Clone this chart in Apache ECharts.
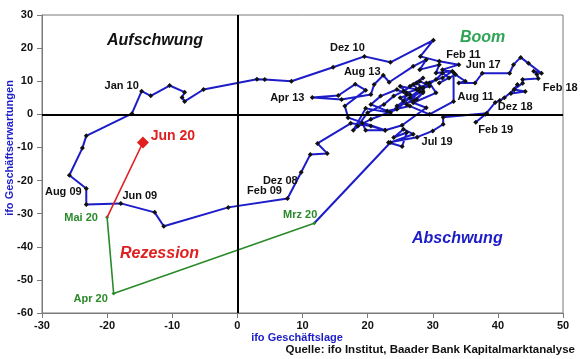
<!DOCTYPE html>
<html><head><meta charset="utf-8">
<script src="https://cdn.jsdelivr.net/npm/echarts@6/dist/echarts.min.js"></script>
<style>html,body{margin:0;padding:0;background:#fff}#c{width:580px;height:359px}</style>
</head><body><div id="c"></div>
<script>
// Monthly ifo path Jan 08 .. Feb 20 (blue)
const months = [
 'Jan 08','Feb 08','Mrz 08','Apr 08','Mai 08','Jun 08','Jul 08','Aug 08','Sep 08','Okt 08','Nov 08','Dez 08',
 'Jan 09','Feb 09','Mrz 09','Apr 09','Mai 09','Jun 09','Jul 09','Aug 09','Sep 09','Okt 09','Nov 09','Dez 09',
 'Jan 10','Feb 10','Mrz 10','Apr 10','Mai 10','Jun 10','Jul 10','Aug 10','Sep 10','Okt 10','Nov 10','Dez 10',
 'Jan 11','Feb 11','Mrz 11','Apr 11','Mai 11','Jun 11','Jul 11','Aug 11','Sep 11','Okt 11','Nov 11','Dez 11',
 'Jan 12','Feb 12','Mrz 12','Apr 12','Mai 12','Jun 12','Jul 12','Aug 12','Sep 12','Okt 12','Nov 12','Dez 12',
 'Jan 13','Feb 13','Mrz 13','Apr 13','Mai 13','Jun 13','Jul 13','Aug 13','Sep 13','Okt 13','Nov 13','Dez 13',
 'Jan 14','Feb 14','Mrz 14','Apr 14','Mai 14','Jun 14','Jul 14','Aug 14','Sep 14','Okt 14','Nov 14','Dez 14',
 'Jan 15','Feb 15','Mrz 15','Apr 15','Mai 15','Jun 15','Jul 15','Aug 15','Sep 15','Okt 15','Nov 15','Dez 15',
 'Jan 16','Feb 16','Mrz 16','Apr 16','Mai 16','Jun 16','Jul 16','Aug 16','Sep 16','Okt 16','Nov 16','Dez 16',
 'Jan 17','Feb 17','Mrz 17','Apr 17','Mai 17','Jun 17','Jul 17','Aug 17','Sep 17','Okt 17','Nov 17','Dez 17',
 'Jan 18','Feb 18','Mrz 18','Apr 18','Mai 18','Jun 18','Jul 18','Aug 18','Sep 18','Okt 18','Nov 18','Dez 18',
 'Jan 19','Feb 19','Mrz 19','Apr 19','Mai 19','Jun 19','Jul 19','Aug 19','Sep 19','Okt 19','Nov 19','Dez 19',
 'Jan 20','Feb 20'
];
const lage = [
 28.0,29.5,30.5,27.0,29.0,25.3,22.7,20.5,17.4,12.3,13.8,11.2,
 9.8,7.7,-1.4,-11.3,-12.7,-17.9,-23.2,-23.2,-25.8,-23.8,-23.2,-16.2,
 -14.7,-13.3,-10.4,-8.1,-8.5,-8.1,-5.2,3.0,4.2,8.3,14.7,19.5,
 23.5,30.1,28.1,31.0,34.0,31.5,33.2,33.2,29.5,26.5,23.0,20.5,
 22.0,24.5,26.0,25.5,23.5,19.7,17.8,19.2,19.7,22.7,17.0,16.5,
 19.7,18.1,15.5,11.5,16.0,20.5,21.0,22.4,23.3,27.0,29.0,28.0,
 31.0,30.5,33.0,31.5,29.0,28.5,26.5,24.5,20.5,18.5,20.0,22.5,
 24.0,25.5,27.5,28.5,26.0,25.0,27.5,29.5,28.0,26.5,28.5,27.0,
 28.0,26.0,25.0,26.5,27.5,28.5,27.0,24.5,28.5,30.5,31.5,32.5,
 31.0,33.5,35.0,34.0,36.5,37.6,41.8,42.4,43.5,44.7,46.7,45.5,
 46.0,46.2,43.8,43.8,42.5,44.2,42.0,43.0,42.5,41.0,40.3,39.6,
 38.1,36.6,38.3,31.6,31.6,30.0,27.6,23.2,25.3,26.0,24.0,25.5,
 27.0,23.5
];
const erwartungen = [
 8.0,9.5,6.5,3.5,2.0,-3.3,-4.8,-3.5,-2.7,-8.8,-11.8,-12.1,
 -17.5,-25.4,-28.1,-33.8,-29.6,-26.9,-27.2,-22.4,-18.4,-10.2,-6.5,0.2,
 7.0,5.6,8.7,6.7,5.1,3.9,7.5,10.6,10.5,10.0,14.2,17.5,
 15.7,22.4,17.5,16.0,15.0,13.5,12.6,3.9,0.0,2.5,1.0,3.0,
 5.5,7.5,6.0,4.0,0.5,1.8,-4.8,-2.7,-4.8,-4.8,-1.0,2.5,
 7.3,9.1,5.7,5.1,4.5,6.0,9.0,11.8,9.7,14.5,16.5,13.5,
 15.0,12.5,13.0,11.0,9.5,7.0,5.0,1.5,-1.5,-3.5,0.5,3.0,
 5.5,7.0,9.5,8.0,6.5,8.5,7.5,8.5,10.0,8.5,11.0,9.0,
 7.0,3.0,5.0,6.0,4.5,6.5,4.0,2.5,8.0,10.5,12.5,11.0,
 9.5,12.0,10.0,9.5,9.5,12.4,12.4,15.0,17.2,15.4,12.4,13.0,
 12.0,10.8,10.5,9.4,7.5,6.9,6.3,9.0,7.5,5.0,4.2,3.6,
 0.0,-2.4,0.3,-0.9,-3.0,-5.0,-6.9,-8.5,-9.7,-5.5,-7.0,-4.5,
 -6.0,-8.5
];
// Corona months (green) and latest (red)
const coronaMonths = ['Mrz 20','Apr 20','Mai 20'];
const coronaLage = [11.8,-19.0,-20.0];
const coronaErw = [-32.9,-54.1,-31.1];
const latestMonths = ['Mai 20','Jun 20'];
const latestLage = [-20.0,-14.5];
const latestErw = [-31.1,-8.5];
const xTicks = {min:-30,max:50,step:10};
const yTicks = {min:-60,max:30,step:10};

// label placement (style, not data)
const blueLabelOffsets = {
 'Dez 08':[-30,27],'Feb 09':[-23,-7],'Jun 09':[19,-7],'Aug 09':[-23,3],'Jan 10':[-20,-5],
 'Dez 10':[-17,-8],'Feb 11':[30,15],'Aug 11':[22,-4],'Apr 13':[-25,1],'Aug 13':[-21,-3],
 'Jun 17':[1,-8],'Feb 18':[22,9],'Dez 18':[20,5],'Feb 19':[20,8],'Jul 19':[20,5]
};
const greenLabelOffsets = {'Mrz 20':[-14,-8],'Apr 20':[-23,6],'Mai 20':[-26,1]};

const F = 'Liberation Sans, Arial, sans-serif';
const lblStyle = {show:true, position:'inside', color:'#111', fontFamily:F, fontWeight:'bold', fontSize:11};

const blueData = months.map((m,i)=>{
  const d = {name:m, value:[lage[i], erwartungen[i]]};
  if (blueLabelOffsets[m]) d.label = Object.assign({}, lblStyle, {formatter:m, offset:blueLabelOffsets[m]});
  return d;
});
// the blue path runs on into the first corona month
blueData.push({name:coronaMonths[0], value:[coronaLage[0], coronaErw[0]], symbol:'none'});

const greenData = coronaMonths.map((m,i)=>{
  const d = {name:m, value:[coronaLage[i], coronaErw[i]]};
  if (greenLabelOffsets[m]) d.label = Object.assign({}, lblStyle, {color:'#2a8a2a', formatter:m, offset:greenLabelOffsets[m]});
  return d;
});
const redData = latestMonths.map((m,i)=>{
  const d = {name:m, value:[latestLage[i], latestErw[i]]};
  if (i === latestMonths.length-1) {
    d.symbol = 'diamond'; d.symbolSize = 12;
    d.label = Object.assign({}, lblStyle, {color:'#e02020', fontSize:14, formatter:m, offset:[30,-6]});
  } else { d.symbol = 'none'; }
  return d;
});

const chart = echarts.init(document.getElementById('c'), null, {renderer:'canvas'});
const axisLbl = {color:'#111', fontFamily:F, fontWeight:'bold', fontSize:11};
chart.setOption({
  animation:false,
  grid:{left:42, right:17, top:15, bottom:46, show:true, borderColor:'#7a7a7a', borderWidth:1, backgroundColor:'transparent'},
  xAxis:{type:'value', min:xTicks.min, max:xTicks.max, interval:xTicks.step,
    axisLine:{show:true, onZero:false, lineStyle:{color:'#7a7a7a'}},
    axisTick:{show:true, length:5, lineStyle:{color:'#7a7a7a'}},
    splitLine:{show:false}, axisLabel:Object.assign({margin:7}, axisLbl)},
  yAxis:{type:'value', min:yTicks.min, max:yTicks.max, interval:yTicks.step,
    axisLine:{show:true, onZero:false, lineStyle:{color:'#7a7a7a'}},
    axisTick:{show:true, length:5, lineStyle:{color:'#7a7a7a'}},
    splitLine:{show:false}, axisLabel:Object.assign({margin:9}, axisLbl)},
  series:[
    {type:'line', data:[], z:1, silent:true,
     markLine:{silent:true, symbol:'none', label:{show:false},
       lineStyle:{color:'#000', width:2, type:'solid'},
       data:[{xAxis:0},{yAxis:0}]}},
    {type:'line', name:'ifo', data:blueData, z:3,
     symbol:'diamond', symbolSize:5, showSymbol:true,
     itemStyle:{color:'#111'}, lineStyle:{color:'#1c1cc8', width:2}, label:{show:false}},
    {type:'line', name:'corona', data:greenData, z:4,
     symbol:'diamond', symbolSize:4, itemStyle:{color:'#2a8a2a'}, lineStyle:{color:'#2a8a2a', width:1.6}},
    {type:'line', name:'latest', data:redData, z:5,
     itemStyle:{color:'#e02020'}, lineStyle:{color:'#e02020', width:1.6}}
  ],
  graphic:[
    {type:'text', left:107, top:33, style:{text:'Aufschwung', fill:'#111', font:'italic bold 16px '+F}},
    {type:'text', left:460, top:30, style:{text:'Boom', fill:'#2fa456', font:'italic bold 16px '+F}},
    {type:'text', left:120, top:246, style:{text:'Rezession', fill:'#e02020', font:'italic bold 16px '+F}},
    {type:'text', left:412, top:231, style:{text:'Abschwung', fill:'#1c1cc8', font:'italic bold 16px '+F}},
    {type:'text', x:4, y:148, rotation:Math.PI/2, style:{text:'ifo Geschäftserwartungen', fill:'#1c1cc8', font:'bold 11px '+F, textAlign:'center', textVerticalAlign:'top'}},
    {type:'text', x:297, y:338, style:{text:'ifo Geschäftslage', fill:'#1c1cc8', font:'bold 11px '+F, textAlign:'center', textVerticalAlign:'middle'}},
    {type:'text', x:575, y:350, style:{text:'Quelle: ifo Institut, Baader Bank Kapitalmarktanalyse', fill:'#111', font:'bold 11.5px '+F, textAlign:'right', textVerticalAlign:'middle'}}
  ]
});
</script></body></html>
